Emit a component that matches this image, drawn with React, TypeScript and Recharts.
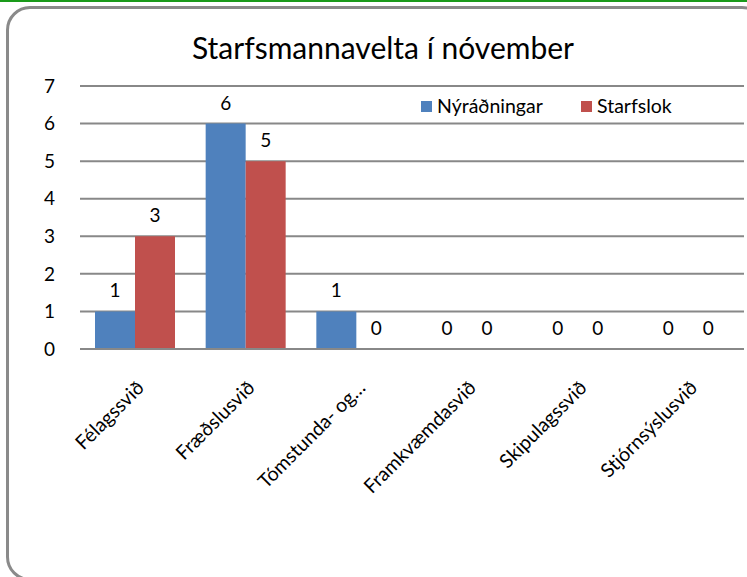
import { Bar, BarChart, CartesianGrid, LabelList, Legend, XAxis, YAxis } from "recharts";

const categories = [
  "Félagssvið",
  "Fræðslusvið",
  "Tómstunda- og…",
  "Framkvæmdasvið",
  "Skipulagssvið",
  "Stjórnsýslusvið",
];
const nyradningar = [1, 6, 1, 0, 0, 0];
const starfslok = [3, 5, 0, 0, 0, 0];
const yTicks = [0, 1, 2, 3, 4, 5, 6, 7];

const data = categories.map((name, i) => ({
  name,
  "Nýráðningar": nyradningar[i],
  Starfslok: starfslok[i],
}));

const FONT = "Lato, 'Open Sans', sans-serif";

function XTick({ x, y, payload }: any) {
  const tx = x + 10;
  const ty = y + 32;
  return (
    <text
      x={tx}
      y={ty}
      textAnchor="end"
      fontSize={19.5}
      fontFamily={FONT}
      fill="#000"
      transform={`rotate(-45, ${tx}, ${ty})`}
    >
      {payload.value}
    </text>
  );
}

// value label above each bar, also for zero values
function BarValue({ x, y, width, value }: any) {
  return (
    <text x={x + width / 2} y={y - 14} textAnchor="middle" fontSize={19} fontFamily={FONT} fill="#000">
      {value}
    </text>
  );
}

function LegendBox({ payload }: any) {
  return (
    <div style={{ height: 0, overflow: "visible" }}>
      <div style={{ display: "flex", fontFamily: FONT, fontSize: 19.5, color: "#000", lineHeight: "22px" }}>
        {payload.map((p: any) => (
          <div key={p.value} style={{ display: "flex", alignItems: "center", width: 174 }}>
            <span style={{ width: 11, height: 11, background: p.color, marginRight: 5 }} />
            {p.value}
          </div>
        ))}
      </div>
    </div>
  );
}

export default function App() {
  return (
    <div style={{ position: "absolute", left: 0, top: 0, width: 747, height: 577, overflow: "hidden", background: "#fff" }}>
      <div style={{ position: "absolute", left: 0, top: 0, width: 747, height: 2, background: "#1a9a1a" }} />
      <div
        style={{
          position: "absolute",
          left: 6,
          top: 6,
          width: 760,
          height: 575,
          border: "3px solid #8a8a8a",
          borderRadius: 24,
          boxSizing: "border-box",
        }}
      />
      <div
        style={{
          position: "absolute",
          left: 0,
          width: 766,
          top: 28,
          textAlign: "center",
          fontFamily: FONT,
          fontSize: 30,
          lineHeight: "38px",
          color: "#000",
        }}
      >
        Starfsmannavelta í nóvember
      </div>
      <div style={{ position: "absolute", left: 0, top: 0 }}>
        <BarChart
          width={747}
          height={577}
          data={data}
          margin={{ top: 86, right: 3, left: 20, bottom: 0 }}
          barGap={0}
          barSize={40}
        >
          <CartesianGrid vertical={false} stroke="#888" strokeWidth={2} />
          <XAxis
            dataKey="name"
            height={228}
            interval={0}
            tickLine={false}
            axisLine={{ stroke: "#888", strokeWidth: 2 }}
            tick={<XTick />}
          />
          <YAxis
            width={60}
            domain={[0, 7]}
            ticks={yTicks}
            axisLine={false}
            tickLine={false}
            tickMargin={19}
            tick={{ fontSize: 19, fontFamily: FONT, fill: "#000" }}
          />
          <Legend
            verticalAlign="top"
            align="left"
            content={<LegendBox />}
            wrapperStyle={{ top: 95, left: 421, width: 320 }}
          />
          <Bar dataKey="Nýráðningar" fill="#4f81bd" minPointSize={0.01} isAnimationActive={false}>
            <LabelList dataKey="Nýráðningar" content={<BarValue />} />
          </Bar>
          <Bar dataKey="Starfslok" fill="#c0504d" minPointSize={0.01} isAnimationActive={false}>
            <LabelList dataKey="Starfslok" content={<BarValue />} />
          </Bar>
        </BarChart>
      </div>
    </div>
  );
}
